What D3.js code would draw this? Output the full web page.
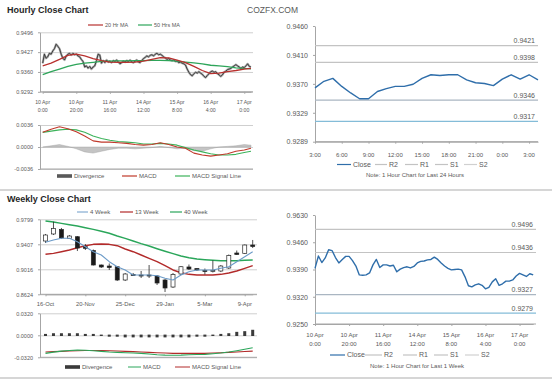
<!DOCTYPE html>
<html lang="en">
<head>
<meta charset="UTF-8">
<title>Hourly and Weekly Close Charts</title>
<script src="https://d3js.org/d3.v7.min.js"></script>
<style>
    body { margin: 0; background: #fff; }
    svg { display: block; font-family: Arial, "Liberation Sans", sans-serif; }
    .title { font-size: 9px; font-weight: bold; fill: #262626; }
    .brand { font-size: 8.5px; fill: #595959; }
    .lbl { fill: #595959; }
    .leg { font-size: 6px; fill: #595959; }
    .note { font-size: 6px; fill: #595959; }
    .axis { color: #595959; }
    .axis path, .axis line { stroke: #a6a6a6; }
    .grid line { stroke: #cfcfcf; }
    .grid path { display: none; }
</style>
</head>
<body>
<svg id="chart" width="560" height="380"></svg>
<script>
// ---------- hourly (last week) ----------
const hourLabels = [["10 Apr","0:00"],["10 Apr","20:00"],["11 Apr","16:00"],["14 Apr","12:00"],["15 Apr","8:00"],["16 Apr","4:00"],["17 Apr","0:00"]];
const hourTicks = ["0.9292","0.9360","0.9427","0.9496"];
const hourClose = [
    0.9390,0.9421,0.9407,0.9412,0.9424,0.9421,0.9432,0.9440,0.9455,0.9448,
    0.9440,0.9421,0.9407,0.9401,0.9415,0.9421,0.9424,0.9418,0.9424,0.9419,
    0.9421,0.9415,0.9412,0.9403,0.9396,0.9377,0.9381,0.9373,0.9379,0.9370,
    0.9377,0.9381,0.9399,0.9421,0.9418,0.9390,0.9399,0.9392,0.9401,0.9394,
    0.9397,0.9392,0.9399,0.9396,0.9401,0.9394,0.9388,0.9392,0.9397,0.9394,
    0.9399,0.9396,0.9401,0.9394,0.9392,0.9397,0.9401,0.9394,0.9392,0.9399,
    0.9406,0.9410,0.9415,0.9412,0.9417,0.9419,0.9415,0.9421,0.9424,0.9419,
    0.9421,0.9417,0.9412,0.9408,0.9403,0.9406,0.9401,0.9399,0.9401,0.9396,
    0.9397,0.9392,0.9394,0.9390,0.9388,0.9384,0.9370,0.9359,0.9351,0.9347,
    0.9354,0.9359,0.9356,0.9361,0.9356,0.9352,0.9345,0.9341,0.9348,0.9354,
    0.9361,0.9363,0.9359,0.9361,0.9354,0.9350,0.9345,0.9350,0.9359,0.9363,
    0.9368,0.9370,0.9372,0.9377,0.9381,0.9385,0.9381,0.9377,0.9372,0.9377,
    0.9375,0.9381,0.9388,0.9379,0.9377
];
// moving averages and MACD read every 5 hours
const hourIdx = [0,5,10,15,20,25,30,35,40,45,50,55,60,65,70,75,80,85,90,95,100,105,110,115,120,124];
const ma20 = [0.9381,0.9390,0.9403,0.9417,0.9421,0.9415,0.9406,0.9399,0.9394,0.9393,0.9393,0.9394,0.9397,0.9403,0.9409,0.9408,0.9401,0.9392,0.9379,0.9365,0.9354,0.9356,0.9361,0.9365,0.9370,0.9372];
const ma50 = [0.9351,0.9361,0.9370,0.9379,0.9386,0.9390,0.9393,0.9396,0.9397,0.9398,0.9398,0.9399,0.9399,0.9400,0.9400,0.9399,0.9397,0.9394,0.9391,0.9388,0.9383,0.9381,0.9378,0.9374,0.9372,0.9371];
const macdTicks = ["-0.0036","0.0000","0.0036"];
const hourMacd = [0.0024,0.0029,0.0033,0.0030,0.0025,0.0018,0.0010,0.0008,0.0008,0.0007,0.0006,0.0004,0.0003,0.0004,0.0007,0.0004,0.0000,-0.0002,-0.0010,-0.0013,-0.0015,-0.0013,-0.0011,-0.0007,-0.0005,-0.0002];
const hourSignal = [0.0024,0.0026,0.0028,0.0029,0.0028,0.0024,0.0018,0.0014,0.0011,0.0009,0.0008,0.0007,0.0005,0.0005,0.0006,0.0005,0.0003,-0.0001,-0.0005,-0.0008,-0.0011,-0.0013,-0.0013,-0.0012,-0.0009,-0.0007];
const hourDiv = [0.0000,0.0002,0.0004,0.0001,-0.0003,-0.0008,-0.0010,-0.0007,-0.0004,-0.0002,-0.0002,-0.0003,-0.0002,-0.0001,0.0001,-0.0001,-0.0003,-0.0002,-0.0006,-0.0007,-0.0003,0.0000,0.0001,0.0002,0.0004,0.0003];

// ---------- last 24 hours ----------
const dayLabels = ["3:00","6:00","9:00","12:00","15:00","18:00","21:00","0:00","3:00"];
const dayTicks = ["0.9289","0.9329","0.9370","0.9410","0.9460"];
const dayClose = [0.9363,0.9372,0.9376,0.9365,0.9356,0.9348,0.9348,0.9358,0.9362,0.9365,0.9365,0.9368,0.9376,0.9381,0.9380,0.9381,0.9381,0.9374,0.9370,0.9369,0.9366,0.9375,0.9381,0.9375,0.9381,0.9374];
const levelNames = ["R2","R1","S1","S2"];
const dayLevels = [0.9421,0.9398,0.9346,0.9317];

// ---------- weekly candles ----------
const weekLabels = ["16-Oct","20-Nov","25-Dec","29-Jan","5-Mar","9-Apr"];
const weekTicks = ["0.8624","0.9016","0.9407","0.9799"];
const weekOpen  = [0.9459,0.9569,0.9639,0.9501,0.9526,0.9370,0.9310,0.9083,0.9067,0.9056,0.8848,0.8934,0.8926,0.8926,0.8911,0.8848,0.8738,0.8942,0.9052,0.9028,0.8997,0.8989,0.8989,0.9036,0.9271,0.9266,0.9396];
const weekHigh  = [0.9569,0.9761,0.9663,0.9553,0.9537,0.9412,0.9326,0.9091,0.9107,0.9067,0.8958,0.8958,0.8989,0.9083,0.8926,0.8864,0.8958,0.9067,0.9091,0.9036,0.9028,0.9154,0.9083,0.9248,0.9310,0.9404,0.9475];
const weekLow   = [0.9428,0.9553,0.9490,0.9490,0.9302,0.9318,0.9075,0.9036,0.9005,0.8832,0.8832,0.8911,0.8879,0.8879,0.8770,0.8660,0.8723,0.8926,0.9005,0.8989,0.8934,0.8966,0.8973,0.9020,0.9240,0.9255,0.9349];
const weekClose = [0.9553,0.9655,0.9506,0.9537,0.9349,0.9345,0.9083,0.9052,0.9044,0.8848,0.8942,0.8919,0.8922,0.8919,0.8801,0.8723,0.8934,0.9056,0.9020,0.9005,0.8981,0.8997,0.9067,0.9232,0.9248,0.9396,0.9373];
const ma4  = [0.9439,0.9475,0.9501,0.9501,0.9448,0.9370,0.9291,0.9240,0.9135,0.9056,0.9005,0.8926,0.8926,0.8926,0.8915,0.8875,0.8848,0.8926,0.8978,0.9005,0.9005,0.9005,0.9031,0.9056,0.9135,0.9213,0.9291];
const ma13 = [0.9251,0.9266,0.9291,0.9318,0.9354,0.9385,0.9407,0.9412,0.9407,0.9385,0.9334,0.9291,0.9240,0.9188,0.9135,0.9072,0.9005,0.8962,0.8937,0.8926,0.8926,0.8926,0.8937,0.8958,0.8989,0.9031,0.9072];
const ma40 = [0.9772,0.9757,0.9736,0.9714,0.9694,0.9667,0.9642,0.9611,0.9580,0.9537,0.9501,0.9459,0.9417,0.9381,0.9338,0.9298,0.9260,0.9224,0.9197,0.9177,0.9166,0.9157,0.9150,0.9150,0.9150,0.9157,0.9161];
const wMacdTicks = ["-0.0320","0.0000","0.0320"];
const weekMacd   = [-0.0263,-0.0245,-0.0230,-0.0220,-0.0215,-0.0218,-0.0224,-0.0234,-0.0243,-0.0248,-0.0253,-0.0258,-0.0263,-0.0272,-0.0282,-0.0288,-0.0291,-0.0288,-0.0282,-0.0280,-0.0277,-0.0268,-0.0258,-0.0243,-0.0224,-0.0203,-0.0181];
const weekSignal = [-0.0243,-0.0238,-0.0234,-0.0229,-0.0224,-0.0222,-0.0220,-0.0222,-0.0224,-0.0229,-0.0234,-0.0238,-0.0243,-0.0248,-0.0253,-0.0258,-0.0263,-0.0263,-0.0263,-0.0263,-0.0263,-0.0258,-0.0253,-0.0248,-0.0243,-0.0236,-0.0230];
const weekDiv    = [0.001,0.002,0.002,0.002,0.002,0.001,0.001,0.000,-0.001,-0.001,-0.002,-0.002,-0.002,-0.002,-0.002,-0.002,-0.002,-0.002,-0.002,-0.001,-0.001,0.000,0.001,0.002,0.004,0.005,0.007];

// ---------- last week, 2-hourly ----------
const wkTicks = ["0.9250","0.9320","0.9390","0.9460","0.9630"];
const wkClose = [
    0.9395,0.9427,0.9410,0.9422,0.9443,0.9441,0.9423,0.9409,0.9418,0.9426,
    0.9426,0.9415,0.9401,0.9378,0.9377,0.9378,0.9383,0.9404,0.9418,0.9397,
    0.9404,0.9404,0.9401,0.9403,0.9386,0.9393,0.9397,0.9399,0.9396,0.9400,
    0.9409,0.9413,0.9414,0.9417,0.9418,0.9424,0.9418,0.9409,0.9401,0.9395,
    0.9391,0.9392,0.9393,0.9391,0.9373,0.9350,0.9347,0.9352,0.9355,0.9351,
    0.9342,0.9346,0.9360,0.9368,0.9351,0.9355,0.9362,0.9362,0.9365,0.9375,
    0.9382,0.9378,0.9374,0.9381,0.9378
];
const wkLevels = [0.9496,0.9436,0.9327,0.9279];

const svg = d3.select("#chart");

function evenTicks(scale, labels) {
    const [lo, hi] = scale.domain();
    return labels.map((t, i) => lo + i * (hi - lo) / (labels.length - 1));
}

function yAxis(scale, labels, x0, x1, grid, size) {
    const vals = evenTicks(scale, labels);
    if (grid) {
        svg.append("g").attr("class", "grid")
            .attr("transform", `translate(${x0},0)`)
            .call(d3.axisRight(scale).tickValues(vals).tickSize(x1 - x0).tickFormat(""));
    }
    svg.append("g").attr("class", "axis")
        .attr("transform", `translate(${x0},0)`)
        .call(d3.axisLeft(scale).tickValues(vals).tickSize(2).tickSizeOuter(0).tickPadding(5)
            .tickFormat((d, i) => labels[i]))
        .call(g => g.attr("font-size", null).attr("font-family", null))
        .selectAll("text").style("font-size", size + "px");
}

function xAxis(scale, y, tickVals) {
    svg.append("g").attr("class", "axis")
        .attr("transform", `translate(0,${y})`)
        .call(d3.axisBottom(scale).tickValues(tickVals).tickSize(2).tickSizeOuter(0).tickFormat(""));
}

function xLabels(labels, pos, y, size) {
    svg.append("g").selectAll("text").data(labels).join("text")
        .attr("class", "lbl").attr("text-anchor", "middle").style("font-size", size + "px")
        .attr("transform", (d, i) => `translate(${pos(i)},${y})`)
        .each(function (d) {
            const t = d3.select(this);
            (Array.isArray(d) ? d : [d]).forEach((p, k) =>
                t.append("tspan").attr("x", 0).attr("dy", k ? "1.45em" : 0).text(p));
        });
}

function drawLine(xs, ys, x, y, color, w) {
    svg.append("path")
        .datum(ys.map((v, i) => [xs[i], v]))
        .attr("fill", "none").attr("stroke", color).attr("stroke-width", w)
        .attr("stroke-linejoin", "round")
        .attr("d", d3.line().x(d => x(d[0])).y(d => y(d[1])));
}

function legend(items, y) {
    items.forEach(it => {
        if (it.bar) {
            svg.append("rect").attr("x", it.x).attr("y", y - 1.8).attr("width", it.len).attr("height", 3.6).attr("fill", it.color);
        } else {
            svg.append("line").attr("x1", it.x).attr("x2", it.x + it.len).attr("y1", y).attr("y2", y)
                .attr("stroke", it.color).attr("stroke-width", it.w || 1.2);
        }
        svg.append("text").attr("class", "leg").attr("x", it.x + it.len + 2).attr("y", y + 2.1)
            .style("font-size", (it.size || 6) + "px").text(it.text);
    });
}

// ---------- frame ----------
svg.append("text").attr("class", "title").attr("x", 7).attr("y", 12.5).text("Hourly Close Chart");
svg.append("text").attr("class", "brand").attr("x", 247).attr("y", 13).text("COZFX.COM");
svg.append("text").attr("class", "title").attr("x", 7).attr("y", 202).text("Weekly Close Chart");
[190, 378].forEach(yy => svg.append("line").attr("x1", 0).attr("x2", 552).attr("y1", yy).attr("y2", yy)
    .attr("stroke", "#c8c8c8").attr("stroke-width", 1.6));

const idx = n => d3.range(n);

// ---------- hourly close (top left) ----------
const xH = d3.scaleLinear().domain([0, 124]).range([42.7, 251]);
const yH = d3.scaleLinear().domain([0.9292, 0.9496]).range([91.8, 32.3]);
yAxis(yH, hourTicks, 40, 253, true, 5.5);
svg.append("line").attr("x1", 40).attr("x2", 253).attr("y1", 91.8).attr("y2", 91.8).attr("stroke", "#a6a6a6");
xAxis(xH, 91.8, hourLabels.map((d, i) => i * 20));
xLabels(hourLabels, i => xH(i * 20), 104, 5.2);
drawLine(idx(hourClose.length), hourClose, xH, yH, "#a8a8a8", 2.2);
drawLine(idx(hourClose.length), hourClose, xH, yH, "#262626", 0.8);
drawLine(hourIdx, ma50, xH, yH, "#2ea55a", 1.3);
drawLine(hourIdx, ma20, xH, yH, "#b8312f", 1.3);
legend([
    {x: 88, len: 15, color: "#b8312f", text: "20 Hr MA", size: 5.5},
    {x: 138, len: 14, color: "#2ea55a", text: "50 Hrs MA", size: 5.5}
], 25);

// ---------- hourly MACD ----------
const yM = d3.scaleLinear().domain([-0.0036, 0.0036]).range([169, 125]);
yAxis(yM, macdTicks, 40, 253, true, 5.5);
svg.append("line").attr("x1", 40).attr("x2", 253).attr("y1", 169).attr("y2", 169).attr("stroke", "#a6a6a6");
svg.append("path")
    .datum(hourDiv.map((v, i) => [hourIdx[i], v]))
    .attr("fill", "#c4c4c4").attr("stroke", "#9a9a9a").attr("stroke-width", 0.4)
    .attr("d", d3.area().x(d => xH(d[0])).y0(yM(0)).y1(d => yM(d[1])));
drawLine(hourIdx, hourSignal, xH, yM, "#3cb35a", 1.1);
drawLine(hourIdx, hourMacd, xH, yM, "#c0392b", 1.1);
legend([
    {x: 57, len: 15, color: "#595959", bar: true, text: "Divergence"},
    {x: 122, len: 15, color: "#c0392b", text: "MACD"},
    {x: 175, len: 15, color: "#3cb35a", text: "MACD Signal Line"}
], 176);

// ---------- last 24 hours (top right) ----------
const xD = d3.scaleLinear().domain([0, 25]).range([315, 538]);
const yD = d3.scaleLinear().domain([0.9289, 0.9448]).range([141.7, 26]);
yAxis(yD, dayTicks, 315, 538, false, 7);
svg.append("line").attr("x1", 315).attr("x2", 538).attr("y1", 141.7).attr("y2", 141.7).attr("stroke", "#a6a6a6");
xAxis(xD, 141.7, dayLabels.map((d, i) => i * 3));
xLabels(dayLabels, i => xD(i * 3), 157, 6);
const levelColors = ["#c3c3c3", "#c3c3c3", "#aab6c2", "#84bcd8"];
dayLevels.forEach((v, i) => {
    svg.append("line").attr("x1", 315).attr("x2", 538).attr("y1", yD(v)).attr("y2", yD(v))
        .attr("stroke", levelColors[i]).attr("stroke-width", 1.2);
    svg.append("text").attr("class", "lbl").style("font-size", "7px").attr("text-anchor", "end")
        .attr("x", 535).attr("y", yD(v) - 2.5).text(v.toFixed(4));
});
drawLine(idx(dayClose.length), dayClose, xD, yD, "#2f6eaa", 1.4);
legend([
    {x: 337, len: 14, color: "#2f6eaa", text: "Close", size: 7},
    {x: 375, len: 12, color: "#c3c3c3", text: levelNames[0], size: 7},
    {x: 405, len: 13, color: "#c3c3c3", text: levelNames[1], size: 7},
    {x: 435, len: 13, color: "#c3c3c3", text: levelNames[2], size: 7},
    {x: 464, len: 13, color: "#d0d0d0", text: levelNames[3], size: 7}
], 164.5);
svg.append("text").attr("class", "note").attr("text-anchor", "middle").attr("x", 415).attr("y", 177)
    .text("Note: 1 Hour Chart for Last 24 Hours");

// ---------- weekly candles (bottom left) ----------
const xW = d3.scaleLinear().domain([0, 26]).range([45.5, 252.7]);
const yW = d3.scaleLinear().domain([0.8624, 0.9799]).range([294.3, 219.3]);
yAxis(yW, weekTicks, 40, 257, true, 5.5);
svg.append("line").attr("x1", 40).attr("x2", 257).attr("y1", 294.3).attr("y2", 294.3).attr("stroke", "#a6a6a6");
xAxis(xW, 294.3, weekLabels.map((d, i) => i * 5));
xLabels(weekLabels, i => xW(i * 5), 306, 5.8);
drawLine(idx(ma40.length), ma40, xW, yW, "#2aa65a", 1.4);
drawLine(idx(ma13.length), ma13, xW, yW, "#b22a2a", 1.4);
const candles = svg.append("g").selectAll("g").data(weekOpen.map((o, i) => i)).join("g");
candles.append("line")
    .attr("x1", i => xW(i)).attr("x2", i => xW(i))
    .attr("y1", i => yW(weekHigh[i])).attr("y2", i => yW(weekLow[i]))
    .attr("stroke", "#262626").attr("stroke-width", 0.8);
candles.append("rect")
    .attr("x", i => xW(i) - 2).attr("width", 4)
    .attr("y", i => yW(Math.max(weekOpen[i], weekClose[i])))
    .attr("height", i => Math.max(1, Math.abs(yW(weekOpen[i]) - yW(weekClose[i]))))
    .attr("fill", i => weekClose[i] >= weekOpen[i] ? "#fff" : "#1a1a1a")
    .attr("stroke", "#262626").attr("stroke-width", 0.7);
drawLine(idx(ma4.length), ma4, xW, yW, "#6c9bc8", 1.1);
legend([
    {x: 77, len: 11, color: "#6c9bc8", text: "4 Week", w: 1},
    {x: 120, len: 13, color: "#b22a2a", text: "13 Week"},
    {x: 170, len: 12, color: "#2aa65a", text: "40 Week"}
], 212);

// ---------- weekly MACD ----------
const yWM = d3.scaleLinear().domain([-0.032, 0.032]).range([357.3, 313.3]);
yAxis(yWM, wMacdTicks, 40, 257, true, 5.5);
svg.append("line").attr("x1", 40).attr("x2", 257).attr("y1", 357.3).attr("y2", 357.3).attr("stroke", "#a6a6a6");
svg.append("g").selectAll("rect").data(weekDiv).join("rect")
    .attr("x", (d, i) => xW(i) - 1.5).attr("width", 3)
    .attr("y", d => Math.min(yWM(d), yWM(0)) - 0.7)
    .attr("height", d => Math.abs(yWM(d) - yWM(0)) + 1.4)
    .attr("fill", "#3a3a3a");
drawLine(idx(weekSignal.length), weekSignal, xW, yWM, "#b22a2a", 1.1);
drawLine(idx(weekMacd.length), weekMacd, xW, yWM, "#2aa65a", 1.1);
legend([
    {x: 65, len: 15, color: "#3a3a3a", bar: true, text: "Divergence"},
    {x: 128, len: 13, color: "#2aa65a", text: "MACD", w: 1},
    {x: 175, len: 15, color: "#b22a2a", text: "MACD Signal Line", w: 1}
], 367);

// ---------- last week (bottom right) ----------
const xK = d3.scaleLinear().domain([0, 64]).range([315, 533.2]);
const yK = d3.scaleLinear().domain([0.9251, 0.9533]).range([324, 215]);
yAxis(yK, wkTicks, 315, 536, false, 7);
svg.append("line").attr("x1", 315).attr("x2", 536).attr("y1", 324).attr("y2", 324).attr("stroke", "#a6a6a6");
xAxis(xK, 324, hourLabels.map((d, i) => i * 10));
xLabels(hourLabels, i => xK(i * 10), 337, 6);
wkLevels.forEach((v, i) => {
    svg.append("line").attr("x1", 315).attr("x2", 536).attr("y1", yK(v)).attr("y2", yK(v))
        .attr("stroke", levelColors[i]).attr("stroke-width", 1.2);
    svg.append("text").attr("class", "lbl").style("font-size", "7px").attr("text-anchor", "end")
        .attr("x", 533).attr("y", yK(v) - 2.3).text(v.toFixed(4));
});
drawLine(idx(wkClose.length), wkClose, xK, yK, "#2f6eaa", 1.4);
legend([
    {x: 330, len: 15, color: "#2f6eaa", text: "Close", size: 7},
    {x: 365, len: 17, color: "#c3c3c3", text: levelNames[0], size: 7},
    {x: 403, len: 14, color: "#c3c3c3", text: levelNames[1], size: 7},
    {x: 434, len: 14, color: "#c3c3c3", text: levelNames[2], size: 7},
    {x: 465, len: 14, color: "#d0d0d0", text: levelNames[3], size: 7}
], 355);
svg.append("text").attr("class", "note").attr("text-anchor", "middle").attr("x", 417).attr("y", 368)
    .text("Note: 1 Hour Chart for Last 1 Week");
</script>
</body>
</html>
